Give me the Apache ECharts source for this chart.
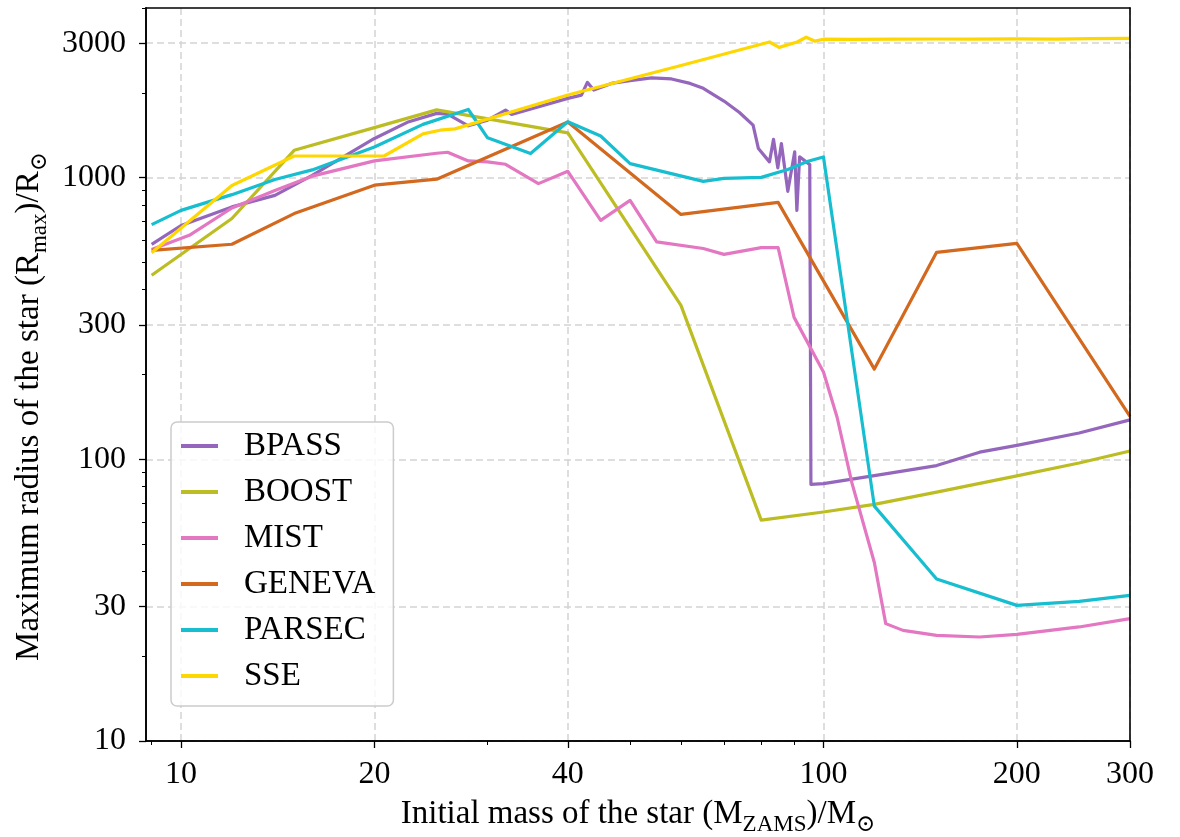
<!DOCTYPE html>
<html><head><meta charset="utf-8">
<script src="https://cdn.jsdelivr.net/npm/echarts@6/dist/echarts.min.js"></script>
<style>html,body{margin:0;padding:0;background:#fff}#c{width:1180px;height:837px}</style>
</head><body><div id="c"></div><script>
const seriesNames = ['BPASS', 'BOOST', 'MIST', 'GENEVA', 'PARSEC', 'SSE'];
const seriesColors = ['#9467bd', '#bcbd22', '#e377c2', '#d2691e', '#17becf', '#ffd700'];

const bpassMass   = [9, 10, 12, 14, 16, 20, 22.5, 25, 26, 28, 30, 32, 32.7, 40, 42, 42.9, 43.9, 47, 50, 54, 58, 62, 65, 70, 74, 77.7, 79.2, 82.4, 83.6, 84.9, 86.0, 88.0, 90.2, 90.9, 91.8, 95.2, 95.6, 100, 120, 150, 175, 200, 250, 300];
const bpassRadius = [579, 676, 787, 865, 1019, 1377, 1571, 1690, 1680, 1527, 1600, 1736, 1676, 1911, 1963, 2178, 2046, 2165, 2210, 2260, 2240, 2160, 2074, 1870, 1703, 1535, 1268, 1137, 1368, 1083, 1321, 894, 1235, 765, 1185, 1112, 81.5, 82, 87.5, 95, 106, 112, 124, 138];

const boostMass   = [9, 12, 15, 20, 25, 40, 60, 80, 100, 120, 150, 200, 250, 300];
const boostRadius = [450, 716, 1250, 1505, 1740, 1442, 352, 60.8, 65, 69.2, 76.5, 87.3, 97, 107];

const mistMass   = [9, 10.3, 12, 14, 16, 20, 25, 26, 28, 30, 32, 36, 40, 45, 50, 55, 65, 70, 80, 85, 90, 100, 105, 110.7, 120, 125, 133, 150, 175, 200, 250, 300];
const mistRadius = [556, 624, 780, 900, 1012, 1146, 1220, 1230, 1146, 1137, 1115, 952, 1053, 705, 830, 591, 560, 534, 564, 564, 319, 204, 141, 82.6, 43, 26.1, 24.7, 23.7, 23.4, 23.9, 25.4, 27.2];

const genevaMass   = [9, 12, 15, 20, 25, 40, 60, 85, 120, 150, 200, 300];
const genevaRadius = [552, 580, 745, 940, 987, 1575, 740, 817, 209, 543, 584, 142];

const parsecMass   = [9, 10, 12, 14, 16, 20, 23.8, 28, 30, 35, 40, 45, 50, 65, 70, 80, 88, 94.6, 100, 120, 150, 200, 250, 300];
const parsecRadius = [681, 765, 870, 985, 1065, 1284, 1545, 1745, 1384, 1217, 1578, 1405, 1121, 970, 993, 1002, 1069, 1143, 1184, 68.2, 37.6, 30.3, 31.3, 32.9];

const sseMass   = [9, 12, 15, 20.7, 23.8, 25.3, 26.7, 40, 60, 82.4, 85.3, 91, 94, 97, 100, 110, 130, 150, 170, 200, 230, 260, 300];
const sseRadius = [541, 938, 1193, 1193, 1430, 1473, 1489, 1965, 2500, 3030, 2900, 3030, 3150, 3050, 3100, 3095, 3100, 3105, 3100, 3110, 3100, 3115, 3120];

const xMajorTicks = [10, 20, 40, 100, 200, 300];
const xMinorTicks = [9, 30, 50, 60, 70, 80, 90];
const yMajorTicks = [10, 30, 100, 300, 1000, 3000];
const yMinorTicks = [20, 40, 50, 60, 70, 80, 90, 200, 400, 500, 600, 700, 800, 900, 2000, 4000];

const xMin = 8.82, xMax = 300, yMin = 10, yMax = 4000;

const massLists = [bpassMass, boostMass, mistMass, genevaMass, parsecMass, sseMass];
const radiusLists = [bpassRadius, boostRadius, mistRadius, genevaRadius, parsecRadius, sseRadius];

const FONT = "'Liberation Serif', 'DejaVu Serif', serif";
const gridLine = { show: true, lineStyle: { color: '#d4d4d4', width: 1.5, type: [7, 4] } };
const spine = { show: true, lineStyle: { color: '#000', width: 1.6 } };
const titleRich = {
  a: { fontFamily: FONT, fontSize: 33, color: '#000', lineHeight: 38, verticalAlign: 'top' },
  s: { fontFamily: FONT, fontSize: 23, color: '#000', lineHeight: 24, padding: [15, 0, 0, 0], verticalAlign: 'top' }
};

const chart = echarts.init(document.getElementById('c'), null, { renderer: 'canvas' });
const option = {
  animation: false,
  backgroundColor: '#ffffff',
  grid: { left: 146, right: 50, top: 8, bottom: 96, show: false, containLabel: false, outerBoundsMode: 'none' },
  xAxis: [{
    type: 'log', min: xMin, max: xMax, logBase: 10,
    axisLine: spine,
    axisTick: { show: true, inside: false, length: 7, lineStyle: { color: '#000', width: 1.3 }, customValues: xMajorTicks },
    axisLabel: { show: true, customValues: xMajorTicks, margin: 18, color: '#000', fontFamily: FONT, fontSize: 32, formatter: v => String(Math.round(v)) },
    splitLine: gridLine,
    minorTick: { show: false }, minorSplitLine: { show: false },
    name: '{a|Initial mass of the star (M}{s|ZAMS}{a|)/M}{s|⊙}',
    nameLocation: 'middle', nameGap: 57,
    nameTextStyle: { rich: titleRich }
  }, {
    type: 'log', min: xMin, max: xMax, logBase: 10, position: 'bottom', z: 10,
    axisLine: spine,
    axisTick: { show: true, inside: false, length: 4, lineStyle: { color: '#000', width: 1 }, customValues: xMinorTicks },
    axisLabel: { show: false },
    splitLine: { show: false }
  }, {
    type: 'log', min: xMin, max: xMax, logBase: 10, position: 'top', z: 10,
    axisLine: spine, axisTick: { show: false }, axisLabel: { show: false }, splitLine: { show: false }
  }],
  yAxis: [{
    type: 'log', min: yMin, max: yMax, logBase: 10,
    axisLine: spine,
    axisTick: { show: true, inside: false, length: 7, lineStyle: { color: '#000', width: 1.3 }, customValues: yMajorTicks },
    axisLabel: { show: true, customValues: yMajorTicks, margin: 20, color: '#000', fontFamily: FONT, fontSize: 32, formatter: v => String(Math.round(v)) },
    splitLine: gridLine,
    minorTick: { show: false }, minorSplitLine: { show: false },
    name: '{a|Maximum radius of the star (R}{s|max}{a|)/R}{s|⊙}',
    nameLocation: 'middle', nameGap: 82, nameRotate: 90,
    nameTextStyle: { rich: titleRich, padding: [0, 64, 0, 0] }
  }, {
    type: 'log', min: yMin, max: yMax, logBase: 10, position: 'left', z: 10,
    axisLine: spine,
    axisTick: { show: true, inside: false, length: 4, lineStyle: { color: '#000', width: 1 }, customValues: yMinorTicks },
    axisLabel: { show: false },
    splitLine: { show: false }
  }, {
    type: 'log', min: yMin, max: yMax, logBase: 10, position: 'right', z: 10,
    axisLine: spine, axisTick: { show: false }, axisLabel: { show: false }, splitLine: { show: false }
  }],
  legend: {
    orient: 'vertical', left: 171, top: 422, z: 20,
    data: seriesNames,
    icon: 'rect', itemWidth: 37, itemHeight: 4, itemGap: 12,
    padding: [7, 18, 13, 10],
    backgroundColor: 'rgba(255,255,255,0.8)',
    borderColor: '#cccccc', borderWidth: 1.5, borderRadius: 6,
    textStyle: { fontFamily: FONT, fontSize: 33, color: '#000', lineHeight: 34, padding: [0, 0, 0, 21] }
  },
  series: seriesNames.map((name, i) => ({
    name: name, type: 'line', xAxisIndex: 0, yAxisIndex: 0,
    showSymbol: false, symbol: 'none', clip: true,
    color: seriesColors[i],
    lineStyle: { color: seriesColors[i], width: 3.2, join: 'round' },
    data: massLists[i].map((m, k) => [m, radiusLists[i][k]])
  }))
};
chart.setOption(option);
</script></body></html>
